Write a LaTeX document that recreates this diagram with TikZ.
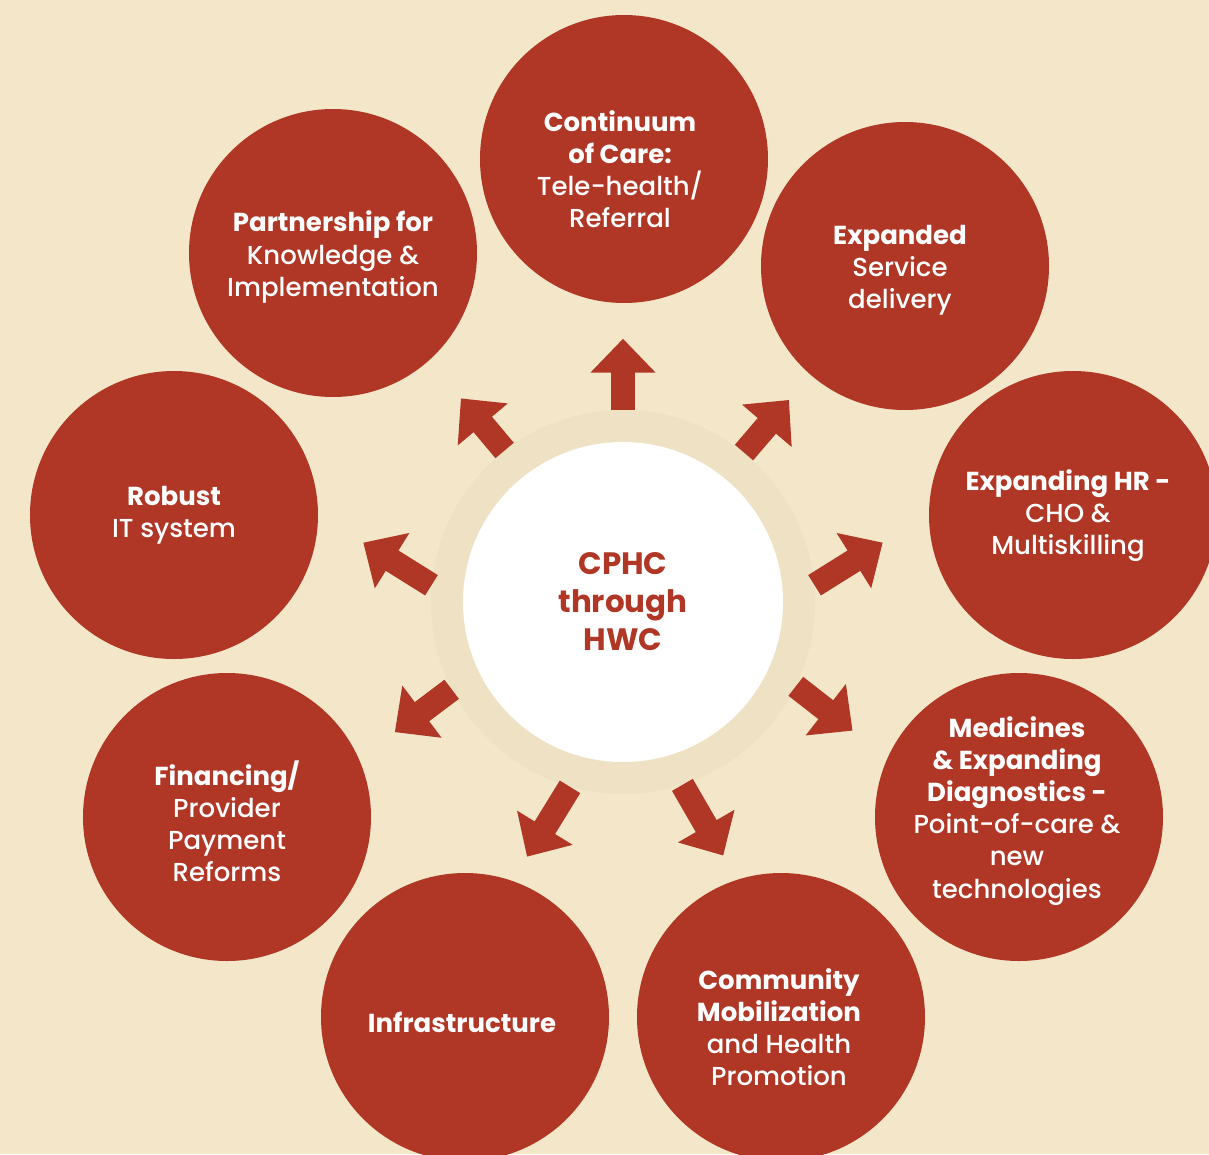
\documentclass[tikz,border=0pt]{standalone}
\usepackage{fontspec}
\setmainfont{Poppins}[UprightFont={* Medium}, BoldFont={* Bold}]
\usetikzlibrary{arrows.meta}

\definecolor{hwcred}{HTML}{B03726}
\definecolor{cream}{HTML}{F3E6C9}
\definecolor{halotone}{HTML}{EFE1C4}

\begin{document}
\begin{tikzpicture}[
    % Styles
    pillar/.style={circle, fill=hwcred, minimum size=7.2cm, inner sep=0pt},
    pillartext/.style={align=center, text=white, inner sep=0pt, font=\fontsize{18.5}{22.8}\selectfont},
    hub/.style={circle, fill=white, minimum size=8cm, inner sep=0pt, align=center, text=hwcred, font=\fontsize{22}{27}\selectfont\bfseries},
    halo/.style={circle, fill=halotone, minimum size=9.6cm, inner sep=0pt},
    outarrow/.style={-{Triangle[width=1.58cm, length=0.85cm]}, line width=0.6cm, hwcred},
]

% Page and background
\useasboundingbox (-15.575,-13.8) rectangle (14.65,15.05);
\clip (-15.575,-13.8) rectangle (14.65,15.05);
\fill[cream] (-15.575,-13.8) rectangle (14.65,15.05);

% Centre
\node[halo] (ring) at (0,0) {};
\node[hub] (hwc) at (0,0) {CPHC\\through\\HWC};

% Outer circles
\node[pillar] (care) at (0.025, 11.075) {};
\node[pillar] (service) at (7.05, 8.4) {};
\node[pillar] (hr) at (11.25, 2.175) {};
\node[pillar] (medicines) at (9.9, -5.375) {};
\node[pillar] (community) at (3.95, -10.375) {};
\node[pillar] (infra) at (-3.95, -10.375) {};
\node[pillar] (finance) at (-9.9, -5.375) {};
\node[pillar] (itsystem) at (-11.225, 2.175) {};
\node[pillar] (partner) at (-7.25, 8.725) {};

% Texts in the circles
\node[pillartext] (careText) at ([shift={(-0.1,-0.25)}]care.center) {\textbf{Continuum}\\\textbf{of Care:}\\Tele-health/\\Referral};
\node[pillartext] (serviceText) at ([shift={(-0.125,-0.1)}]service.center) {\textbf{Expanded}\\Service\\delivery};
\node[pillartext] (hrText) at ([shift={(-0.125,-0.025)}]hr.center) {\textbf{Expanding HR -}\\CHO \&\\Multiskilling};
\node[pillartext] (medicinesText) at ([shift={(-0.05,0.15)}]medicines.center) {\textbf{Medicines}\\\textbf{\& Expanding}\\\textbf{Diagnostics -}\\Point-of-care \&\\new\\technologies};
\node[pillartext] (communityText) at ([shift={(-0.05,-0.25)}]community.center) {\textbf{Community}\\\textbf{Mobilization}\\and Health\\Promotion};
\node[pillartext] (infraText) at ([shift={(-0.075,-0.125)}]infra.center) {\textbf{Infrastructure}};
\node[pillartext] (financeText) at ([shift={(0,-0.1)}]finance.center) {\textbf{Financing/}\\Provider\\Payment\\Reforms};
\node[pillartext] (itsystemText) at (itsystem.center) {\textbf{Robust}\\IT system};
\node[pillartext] (partnerText) at ([shift={(0,-0.1)}]partner.center) {\textbf{Partnership for}\\Knowledge \&\\Implementation};

% Arrows out of the centre
\draw[outarrow] (ring.90) -- ++(90:1.775);
\draw[outarrow] (ring.51) -- ++(49.5:1.73);
\draw[outarrow] (ring.5) -- ++(32:2.01);
\draw[outarrow] (ring.-26) -- ++(-38:1.8);
\draw[outarrow] (ring.-72) -- ++(-60:2.04);
\draw[outarrow] (ring.-106) -- ++(-121.6:2.05);
\draw[outarrow] (ring.-153.4) -- ++(-143:1.78);
\draw[outarrow] (ring.175) -- ++(148:2.01);
\draw[outarrow] (ring.128) -- ++(130:1.7);

\end{tikzpicture}
\end{document}
